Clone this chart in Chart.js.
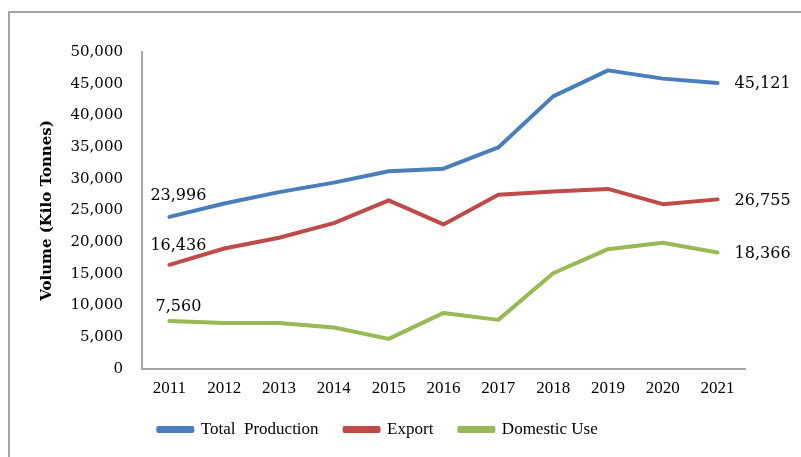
<!DOCTYPE html>
<html>
<head>
<meta charset="utf-8">
<script src="https://cdn.jsdelivr.net/npm/chart.js@4/dist/chart.umd.min.js"></script>
<style>
  html, body { margin: 0; padding: 0; background: #ffffff; }
  #wrap { position: relative; width: 801px; height: 457px; overflow: hidden; }
  #frame { position: absolute; left: 8px; top: 11px; right: -10px; bottom: -10px;
           border-left: 2px solid #a3a3a3; border-top: 2px solid #a3a3a3; }
  canvas { position: absolute; left: 0; top: 0; }
</style>
</head>
<body>
<div id="wrap">
  <div id="frame"></div>
  <canvas id="c" width="801" height="457"></canvas>
</div>
<script>
const years = ["2011","2012","2013","2014","2015","2016","2017","2018","2019","2020","2021"];
const totalProduction = [23996, 26100, 27900, 29400, 31200, 31600, 34950, 43000, 47100, 45800, 45121];
const exportVol = [16436, 19000, 20700, 23000, 26600, 22800, 27500, 28000, 28400, 26000, 26755];
const domesticUse = [7560, 7250, 7250, 6550, 4750, 8850, 7750, 15100, 18900, 19900, 18366];
const seriesNames = ["Total  Production", "Export", "Domestic Use"];
const yTicks = [0, 5000, 10000, 15000, 20000, 25000, 30000, 35000, 40000, 45000, 50000];

const colors = ["#4a7ebb", "#be4b48", "#98b954"];
const firstLabelDy = [-21, -19, -14];

const endLabels = {
  id: 'endLabels',
  afterDatasetsDraw(chart) {
    const ctx = chart.ctx;
    ctx.save();
    ctx.font = '16px "DejaVu Serif"';
    ctx.fillStyle = '#000';
    ctx.textBaseline = 'middle';
    chart.data.datasets.forEach((ds, i) => {
      const meta = chart.getDatasetMeta(i);
      const first = meta.data[0];
      const last = meta.data[meta.data.length - 1];
      ctx.textAlign = 'center';
      ctx.fillText(ds.data[0].toLocaleString('en-US'), first.x + 9, first.y + firstLabelDy[i]);
      ctx.textAlign = 'left';
      ctx.fillText(ds.data[ds.data.length - 1].toLocaleString('en-US'), last.x + 17, last.y + 1);
    });
    ctx.restore();
  }
};

new Chart(document.getElementById('c'), {
  type: 'line',
  data: {
    labels: years,
    datasets: [
      { label: seriesNames[0], data: totalProduction, borderColor: colors[0], backgroundColor: colors[0] },
      { label: seriesNames[1], data: exportVol, borderColor: colors[1], backgroundColor: colors[1] },
      { label: seriesNames[2], data: domesticUse, borderColor: colors[2], backgroundColor: colors[2] }
    ]
  },
  options: {
    responsive: false,
    animation: false,
    events: [],
    layout: { padding: { left: 11, right: 56, top: 52, bottom: 9 } },
    elements: {
      line: { borderWidth: 4, tension: 0, borderCapStyle: 'round', borderJoinStyle: 'round' },
      point: { radius: 0, hoverRadius: 0 }
    },
    plugins: {
      legend: {
        position: 'bottom',
        labels: {
          boxWidth: 34,
          boxHeight: 3,
          padding: 26,
          color: '#000',
          font: { family: '"Liberation Serif"', size: 17 }
        }
      },
      tooltip: { enabled: false }
    },
    scales: {
      x: {
        offset: true,
        grid: { display: false, drawTicks: false },
        border: { display: true, color: '#a6a6a6', width: 2 },
        ticks: { color: '#000', padding: 9, maxRotation: 0, font: { family: '"Liberation Serif"', size: 17 } },
        afterFit(scale) { scale.height = 26; }
      },
      y: {
        min: 0,
        max: 50000,
        grid: { display: false, drawTicks: false },
        border: { display: true, color: '#a6a6a6', width: 2 },
        afterBuildTicks(scale) { scale.ticks = yTicks.map(v => ({ value: v })); },
        ticks: {
          color: '#000',
          padding: 19,
          font: { family: '"DejaVu Serif"', size: 15 },
          callback: (v) => Number(v).toLocaleString('en-US')
        },
        title: {
          display: true,
          text: 'Volume (Kilo Tonnes)',
          color: '#000',
          padding: { top: 27, bottom: 0 },
          font: { family: '"DejaVu Serif"', size: 15, weight: 'bold' }
        },
        afterFit(scale) { scale.width = 131; }
      }
    }
  },
  plugins: [endLabels]
});
</script>
</body>
</html>
